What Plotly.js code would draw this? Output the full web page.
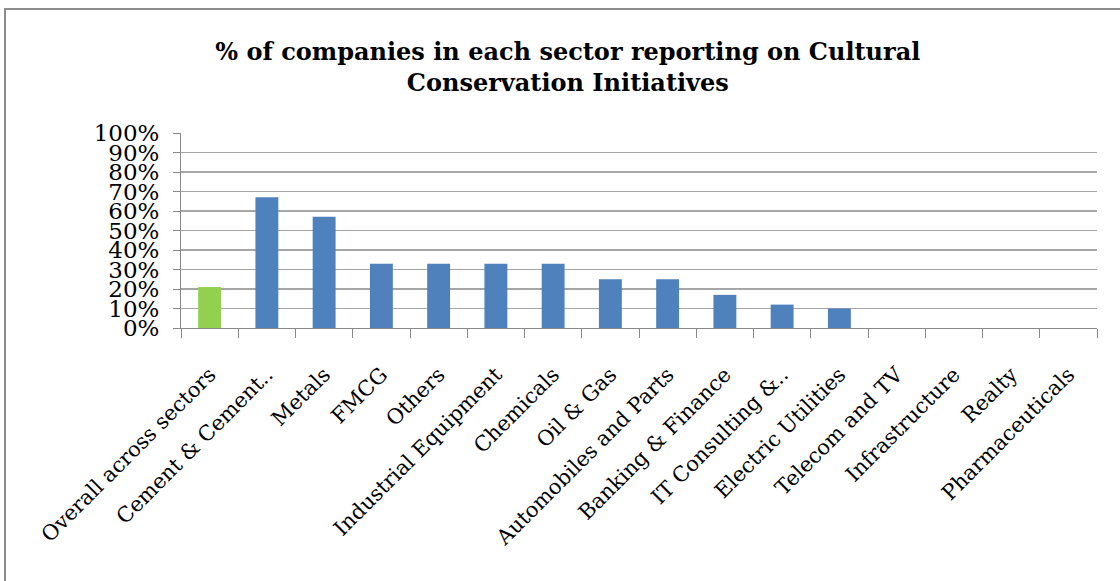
<!DOCTYPE html>
<html>
<head>
<meta charset="utf-8">
<script src="https://cdn.plot.ly/plotly-3.0.1.min.js"></script>
<style>
  html, body { margin: 0; padding: 0; background: #fff; }
  #wrap { position: relative; width: 1120px; height: 581px; overflow: hidden; }
  #frame { position: absolute; left: 4px; top: 8px; width: 1200px; height: 700px; border: 2px solid #8c8c8c; box-sizing: border-box; pointer-events: none; }
  #chart { position: absolute; left: 0; top: 0; width: 1120px; height: 581px; }
</style>
</head>
<body>
<div id="wrap">
  <div id="chart"></div>
  <div id="frame"></div>
</div>
<script>
const categories = [
  "Overall across sectors", "Cement & Cement..", "Metals", "FMCG", "Others",
  "Industrial Equipment", "Chemicals", "Oil & Gas", "Automobiles and Parts",
  "Banking & Finance", "IT Consulting &..", "Electric Utilities", "Telecom and TV",
  "Infrastructure", "Realty", "Pharmaceuticals"
];
const values = [21, 67, 57, 33, 33, 33, 33, 25, 25, 17, 12, 10, 0, 0, 0, 0];
const barColors = ["#92D050", "#4F81BD", "#4F81BD", "#4F81BD", "#4F81BD", "#4F81BD", "#4F81BD", "#4F81BD",
  "#4F81BD", "#4F81BD", "#4F81BD", "#4F81BD", "#4F81BD", "#4F81BD", "#4F81BD", "#4F81BD"];
const yTicks = [0, 10, 20, 30, 40, 50, 60, 70, 80, 90, 100];
const titleText = "% of companies in each sector reporting on Cultural<br>Conservation Initiatives";

const trace = {
  type: "bar",
  x: categories,
  y: values,
  marker: { color: barColors, line: { width: 0 } },
  hoverinfo: "x+y"
};

const layout = {
  width: 1120,
  height: 581,
  margin: { l: 181, r: 23, t: 133, b: 253, pad: 0 },
  paper_bgcolor: "rgba(0,0,0,0)",
  plot_bgcolor: "#fff",
  bargap: 0.6,
  showlegend: false,
  title: {
    text: titleText,
    font: { family: "DejaVu Serif", size: 24, color: "#000", weight: "bold" },
    x: 0.507, xanchor: "center",
    y: 1 - 60 / 581, yanchor: "top", yref: "container"
  },
  xaxis: {
    type: "category",
    tickangle: -45,
    tickson: "boundaries",
    ticks: "outside",
    ticklen: 9,
    tickwidth: 1,
    tickcolor: "#888",
    showline: true,
    linecolor: "#888",
    linewidth: 1,
    showgrid: false,
    ticklabelstandoff: 25,
    tickfont: { family: "DejaVu Serif", size: 21, color: "#000" },
    automargin: false
  },
  yaxis: {
    range: [0, 100],
    tickvals: yTicks,
    ticktext: yTicks.map(v => v + "%"),
    ticks: "outside",
    ticklen: 7,
    tickcolor: "#888",
    showline: true,
    linecolor: "#888",
    linewidth: 1,
    showgrid: true,
    gridcolor: "#a6a6a6",
    gridwidth: 1.5,
    zeroline: false,
    ticklabelstandoff: 9,
    tickfont: { family: "DejaVu Serif", size: 23, color: "#000" },
    automargin: false
  }
};

Plotly.newPlot("chart", [trace], layout, { displayModeBar: false, staticPlot: true });
</script>
</body>
</html>
